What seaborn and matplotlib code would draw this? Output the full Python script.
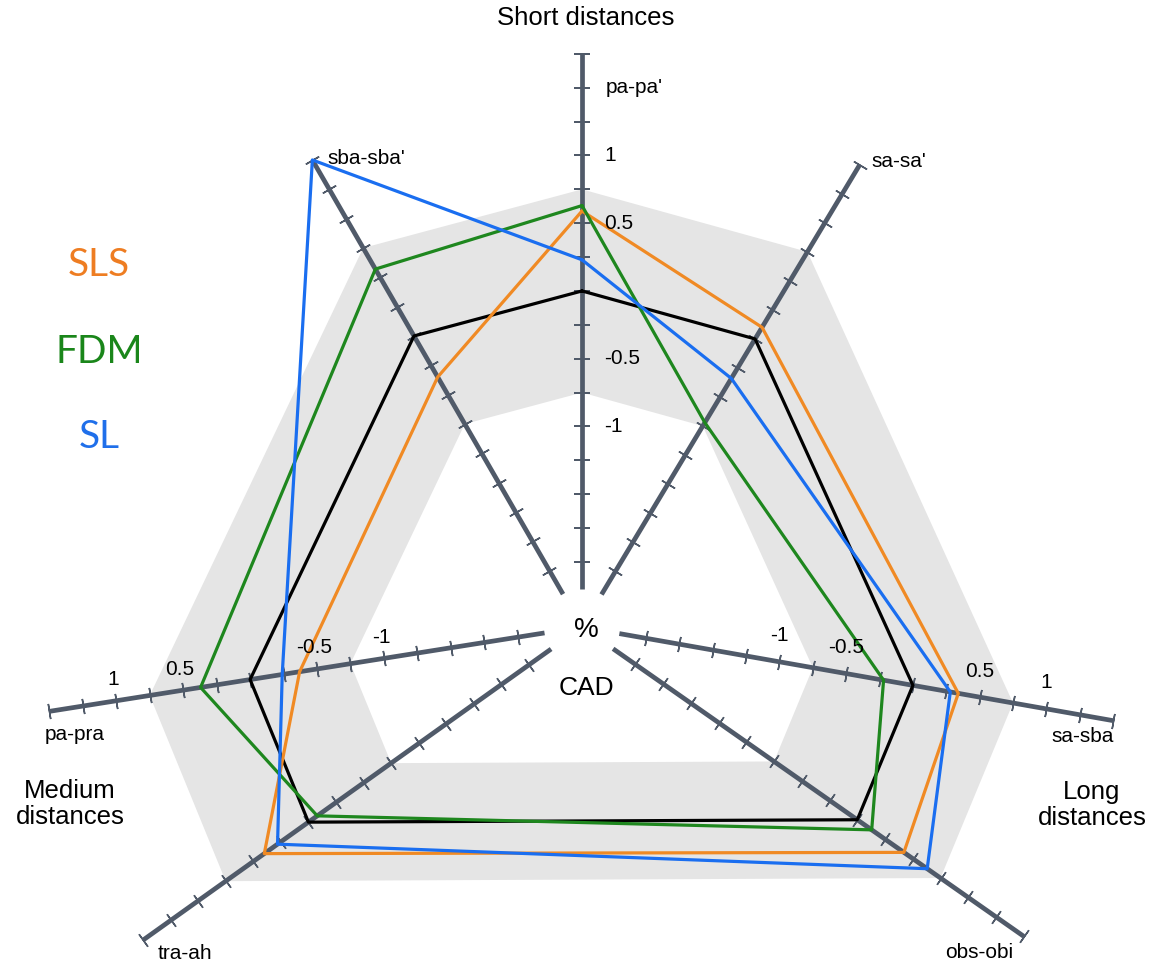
import numpy as np
import pandas as pd
import seaborn as sns
import matplotlib
matplotlib.use('Agg')
import matplotlib.pyplot as plt

# axes of the radar, in drawing order (clockwise from top)
AXES = ["pa-pa'", "sa-sa'", "sa-sba", "obs-obi", "tra-ah", "pa-pra", "sba-sba'"]
ANGLES_DEG = [90, 59, -10, -35, 215.5, 189, 120]
AXIS_END = [1.75, 1.5, 1.5, 1.5, 1.5, 1.5, 1.5]

# deviations from CAD for each printing method
CAD = [0, 0, 0, 0, 0, 0, 0]
SLS = [0.59, 0.10, 0.34, 0.42, 0.40, -0.37, -0.35]
FDM = [0.63, -0.72, -0.22, 0.13, -0.08, 0.37, 0.57]
SL = [0.23, -0.34, 0.28, 0.63, 0.28, -0.24, 1.50]

COLORS = {"CAD": "#000000", "SLS": "#F08A24", "FDM": "#1E871E", "SL": "#1A6EF0"}
TEXT_COLORS = {"SLS": "#EE7D22", "FDM": "#1A861A", "SL": "#1F6FEA"}

BAND = 0.75       # gray tolerance band +/- 0.75
R_MIN = -2.48     # value at the chart centre
AXIS_START = -2.2
AXIS_COLOR = "#505A69"

# numeric labels shown on three of the axes
PAPA_LABELS = ["1", "0.5", "-0.5", "-1"]
SIDE_LABELS = ["-1", "-0.5", "0.5", "1"]


def build_frame():
    rows = []
    for name, vals in [("CAD", CAD), ("SLS", SLS), ("FDM", FDM), ("SL", SL)]:
        seq = list(zip(ANGLES_DEG, vals)) + [(ANGLES_DEG[0], vals[0])]
        for i, (a, v) in enumerate(seq):
            rows.append({"method": name, "order": i, "theta": np.deg2rad(a), "value": v})
    return pd.DataFrame(rows)


def main():
    sns.set_theme(style="white")
    plt.rcParams['font.family'] = ['Liberation Sans', 'DejaVu Sans']
    plt.rcParams['text.color'] = 'black'

    W, H = 1157, 965
    cx, cy = 582, 627          # centre in pixels from top-left
    scale = 135.5              # pixels per unit
    rmax = 1.82
    R = (rmax - R_MIN) * scale

    fig = plt.figure(figsize=(W / 100, H / 100), dpi=100)
    ax = fig.add_axes([(cx - R) / W, (H - cy - R) / H, 2 * R / W, 2 * R / H],
                      projection='polar')
    ax.set_facecolor('none')

    th = np.deg2rad(ANGLES_DEG + [ANGLES_DEG[0]])

    # gray band
    ax.fill(th, [BAND] * len(th), color="#E5E5E5", zorder=0, lw=0)
    ax.fill(th, [-BAND] * len(th), color="white", zorder=0.5, lw=0)

    # axis spokes with ticks every 0.25
    for a, end in zip(ANGLES_DEG, AXIS_END):
        t = np.deg2rad(a)
        ax.plot([t, t], [AXIS_START, end], color=AXIS_COLOR, lw=3.4,
                solid_capstyle='butt', zorder=1)
        ticks = np.arange(-2.0, end + 0.01, 0.25)
        ax.plot([t] * len(ticks), ticks, ls='none', marker=(2, 2, a),
                ms=11, mew=1.1, color=AXIS_COLOR, zorder=1)

    df = build_frame()
    sns.lineplot(data=df, x="theta", y="value", hue="method", palette=COLORS,
                 sort=False, estimator=None, lw=2.3, legend=False, ax=ax, zorder=3)

    ax.set_ylim(R_MIN, rmax)
    ax.grid(False)
    ax.set_xticks([])
    ax.set_yticks([])
    ax.spines['polar'].set_visible(False)
    ax.set_xlabel("")
    ax.set_ylabel("")

    fs_small = 15
    # numbers on pa-pa'
    t0 = np.deg2rad(ANGLES_DEG[0])
    for lab, v in zip(PAPA_LABELS, [1, 0.5, -0.5, -1]):
        ax.annotate(lab, (t0, v), xytext=(22, 0), textcoords='offset pixels',
                    ha='left', va='center', fontsize=fs_small, color='black')
    # numbers on sa-sba and pa-pra
    for idx, off in [(2, (0, 26)), (5, (-3, 21))]:
        t = np.deg2rad(ANGLES_DEG[idx])
        for lab in SIDE_LABELS:
            ax.annotate(lab, (t, float(lab)), xytext=off, textcoords='offset pixels',
                        ha='center', va='center', fontsize=fs_small, color='black')

    # axis names
    name_pos = {
        "pa-pa'": (1.5, (24, 0), 'left'),
        "sa-sa'": (1.5, (12, 3), 'left'),
        "sa-sba": (1.5, (-30, -16), 'center'),
        "obs-obi": (1.5, (-45, -16), 'center'),
        "tra-ah": (1.5, (42, -13), 'center'),
        "pa-pra": (1.5, (25, -23), 'center'),
        "sba-sba'": (1.5, (15, 1), 'left'),
    }
    for name, a in zip(AXES, ANGLES_DEG):
        v, off, ha = name_pos[name]
        ax.annotate(name, (np.deg2rad(a), v), xytext=off, textcoords='offset pixels',
                    ha=ha, va='center', fontsize=fs_small, color='black')

    # group titles and centre text
    fs_big = 18.5
    fig.text(586 / W, 1 - 18 / H, "Short distances", ha='center', va='center',
             fontsize=fs_big, color='black')
    fig.text(70 / W, 1 - 804 / H, "Medium\ndistances", ha='center', va='center',
             multialignment='center', fontsize=fs_big, linespacing=1.1, color='black')
    fig.text(1092 / W, 1 - 805 / H, "Long\ndistances", ha='center', va='center',
             multialignment='center', fontsize=fs_big, linespacing=1.1, color='black')
    fig.text(586 / W, 1 - 630 / H, "%", ha='center', va='center', fontsize=20, color='black')
    fig.text(586 / W, 1 - 688 / H, "CAD", ha='center', va='center', fontsize=19, color='black')

    # method names as legend
    for name, y in [("SLS", 265), ("FDM", 352), ("SL", 437)]:
        fig.text(99 / W, 1 - y / H, name, ha='center', va='center', fontsize=28,
                 color=TEXT_COLORS[name], family=['Lato', 'DejaVu Sans'])

    fig.savefig("out.png", dpi=100, facecolor='white')


if __name__ == "__main__":
    main()
